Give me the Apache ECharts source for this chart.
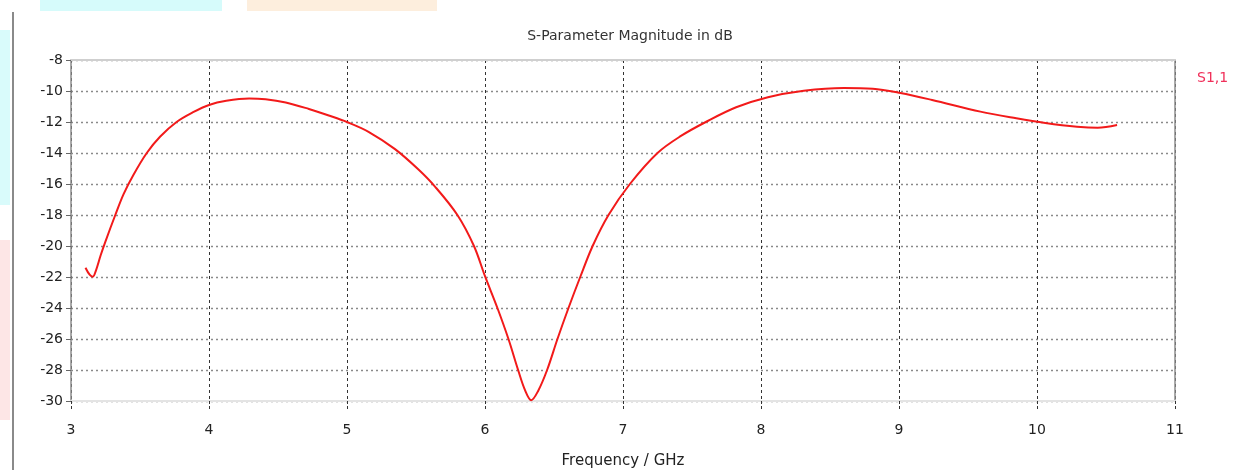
<!DOCTYPE html>
<html>
<head>
<meta charset="utf-8">
<script src="https://cdn.jsdelivr.net/npm/echarts@6/dist/echarts.min.js"></script>
<style>
  html, body { margin: 0; padding: 0; background: #fff; }
  #chart { width: 1260px; height: 470px; }
</style>
</head>
<body>
<div id="chart"></div>
<script>
// S11 reflection coefficient of the antenna, frequency in GHz vs magnitude in dB
const freqGHz = [3.105, 3.135, 3.158, 3.18, 3.215, 3.25, 3.321, 3.381, 3.453, 3.549, 3.645, 3.765, 3.885, 4.0, 4.125, 4.29, 4.41, 4.556, 4.724, 4.868, 5.0, 5.156, 5.348, 5.516, 5.636, 5.80, 5.92, 6.0, 6.09, 6.17, 6.24, 6.29, 6.335, 6.385, 6.45, 6.525, 6.605, 6.69, 6.78, 6.895, 7.05, 7.25, 7.42, 7.6, 7.82, 8.05, 8.31, 8.60, 8.81, 9.01, 9.24, 9.59, 9.85, 10.06, 10.29, 10.44, 10.58];
const s11dB = [-21.4, -21.85, -21.98, -21.6, -20.6, -19.7, -18.0, -16.65, -15.4, -14.0, -12.95, -12.0, -11.37, -10.9, -10.63, -10.48, -10.53, -10.74, -11.16, -11.58, -12.0, -12.63, -13.75, -15.05, -16.15, -18.0, -20.0, -21.95, -24.0, -26.0, -28.0, -29.3, -29.95, -29.35, -28.0, -26.0, -24.0, -22.0, -20.0, -18.0, -16.0, -14.0, -12.9, -12.0, -11.05, -10.4, -9.98, -9.8, -9.85, -10.13, -10.58, -11.33, -11.76, -12.06, -12.3, -12.37, -12.2];

const xTicks = { min: 3, max: 11, step: 1 };
const yTicks = { min: -30, max: -8, step: 2 };
const seriesName = 'S1,1';

const points = freqGHz.map((f, i) => [f, s11dB[i]]);

const chart = echarts.init(document.getElementById('chart'), null, { renderer: 'canvas' });
const font = 'DejaVu Sans, Tahoma, sans-serif';

chart.setOption({
  backgroundColor: '#ffffff',
  animation: false,
  title: {
    text: 'S-Parameter Magnitude in dB',
    left: 'center',
    top: 24,
    textStyle: { fontFamily: font, fontSize: 14, fontWeight: 'normal', color: '#333' }
  },
  legend: {
    data: [seriesName],
    left: 1187,
    top: 66,
    icon: 'none',
    itemWidth: 0,
    itemGap: 0,
    textStyle: { fontFamily: font, fontSize: 14, color: '#f0305a' }
  },
  grid: { left: 71, right: 85, top: 60, bottom: 69, containLabel: false, outerBoundsMode: 'none' },
  graphic: [
    { type: 'rect', shape: { x: 40, y: 0, width: 182, height: 11 }, style: { fill: '#d6fbfb' }, silent: true },
    { type: 'rect', shape: { x: 247, y: 0, width: 190, height: 11 }, style: { fill: '#fdeedd' }, silent: true },
    { type: 'rect', shape: { x: 0, y: 30, width: 10, height: 175 }, style: { fill: '#d9fbfb' }, silent: true },
    { type: 'rect', shape: { x: 0, y: 240, width: 10, height: 180 }, style: { fill: '#fde6e6' }, silent: true },
    { type: 'rect', shape: { x: 12, y: 12, width: 2, height: 458 }, style: { fill: '#8a8a8a' }, silent: true }
  ],
  xAxis: [
    {
      type: 'value',
      min: xTicks.min,
      max: xTicks.max,
      interval: xTicks.step,
      name: 'Frequency / GHz',
      nameLocation: 'middle',
      nameGap: 53,
      nameTextStyle: { fontFamily: font, fontSize: 15, color: '#222' },
      axisLine: { show: true, onZero: false, lineStyle: { color: '#e4e4e4', width: 2 } },
      axisTick: { show: true, length: 8, inside: false, lineStyle: { color: '#333', type: [3, 2] } },
      axisLabel: { fontFamily: font, fontSize: 14, color: '#222', margin: 22 },
      splitLine: { show: true, lineStyle: { color: '#333', type: [3, 3], width: 1 } }
    },
    {
      type: 'value',
      position: 'top',
      min: xTicks.min,
      max: xTicks.max,
      interval: xTicks.step,
      axisLine: { show: true, onZero: false, lineStyle: { color: '#cfcfcf', width: 2 } },
      axisTick: { show: false },
      axisLabel: { show: false },
      splitLine: { show: false }
    }
  ],
  yAxis: [
    {
      type: 'value',
      min: yTicks.min,
      max: yTicks.max,
      interval: yTicks.step,
      axisLine: { show: true, onZero: false, lineStyle: { color: '#8c8c8c', width: 1.5 } },
      axisTick: { show: true, length: 5, lineStyle: { color: '#666' } },
      axisLabel: { fontFamily: font, fontSize: 14, color: '#222', margin: 8 },
      splitLine: { show: true, lineStyle: { color: '#8a8a8a', type: [2, 3], width: 1.3 } }
    },
    {
      type: 'value',
      position: 'right',
      min: yTicks.min,
      max: yTicks.max,
      interval: yTicks.step,
      axisLine: { show: true, onZero: false, lineStyle: { color: '#8c8c8c', width: 1.5 } },
      axisTick: { show: false },
      axisLabel: { show: false },
      splitLine: { show: false }
    }
  ],
  series: [
    {
      name: seriesName,
      type: 'line',
      data: points,
      smooth: 0.35,
      showSymbol: false,
      symbol: 'none',
      lineStyle: { color: '#f21a1a', width: 2 },
      itemStyle: { color: '#f21a1a' },
      z: 5
    }
  ]
});
</script>
</body>
</html>
